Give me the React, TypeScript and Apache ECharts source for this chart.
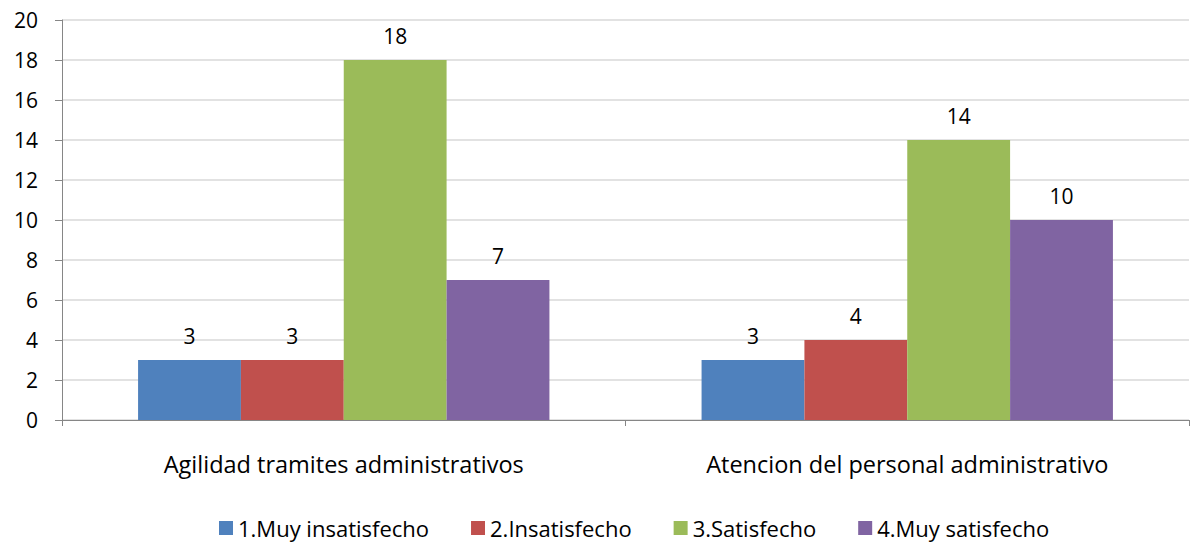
import React, { useEffect, useRef } from "react";
import * as echarts from "echarts";

const categories = ["Agilidad tramites administrativos", "Atencion del personal administrativo"];
const seriesNames = ["1.Muy insatisfecho", "2.Insatisfecho", "3.Satisfecho", "4.Muy satisfecho"];
const muyInsatisfecho = [3, 3];
const insatisfecho = [3, 4];
const satisfecho = [18, 14];
const muySatisfecho = [7, 10];
const colors = ["#4F81BD", "#C0504D", "#9BBB59", "#8064A2"];
const yTicks = [0, 20, 2];

export default function App() {
  const ref = useRef<HTMLDivElement>(null);
  useEffect(() => {
    const chart = echarts.init(ref.current!, undefined, { renderer: "svg" });
    const values = [muyInsatisfecho, insatisfecho, satisfecho, muySatisfecho];
    const font = "'Open Sans', sans-serif";
    chart.setOption({
      animation: false,
      textStyle: { fontFamily: font },
      grid: { left: 62, right: 1, top: 20, bottom: 127 },
      legend: {
        top: 512,
        left: 214,
        itemWidth: 14,
        itemHeight: 14,
        itemGap: 42,
        icon: "rect",
        textStyle: { fontSize: 22, color: "#000", fontFamily: font },
        data: seriesNames,
      },
      xAxis: {
        type: "category",
        data: categories,
        axisLine: { lineStyle: { color: "#868686" } },
        axisTick: { show: true, length: 6, lineStyle: { color: "#868686" } },
        axisLabel: { fontSize: 23.5, color: "#000", margin: 32, fontFamily: font },
      },
      yAxis: {
        type: "value",
        min: yTicks[0],
        max: yTicks[1],
        interval: yTicks[2],
        axisLine: { show: true, lineStyle: { color: "#868686" } },
        axisTick: { show: true, length: 7, lineStyle: { color: "#868686" } },
        splitLine: { lineStyle: { color: "#D9D9D9", width: 1.5 } },
        axisLabel: { fontSize: 21, color: "#000", margin: 24, fontFamily: font },
      },
      series: seriesNames.map((name, i) => ({
        name,
        type: "bar",
        data: values[i],
        barGap: "0%",
        barCategoryGap: "27%",
        itemStyle: { color: colors[i] },
        label: { show: true, position: "top", distance: 14, fontSize: 21, color: "#000", fontFamily: font },
      })),
    });
    return () => chart.dispose();
  }, []);
  return <div ref={ref} style={{ position: "absolute", left: 0, top: 0, width: 1190, height: 547 }} />;
}
